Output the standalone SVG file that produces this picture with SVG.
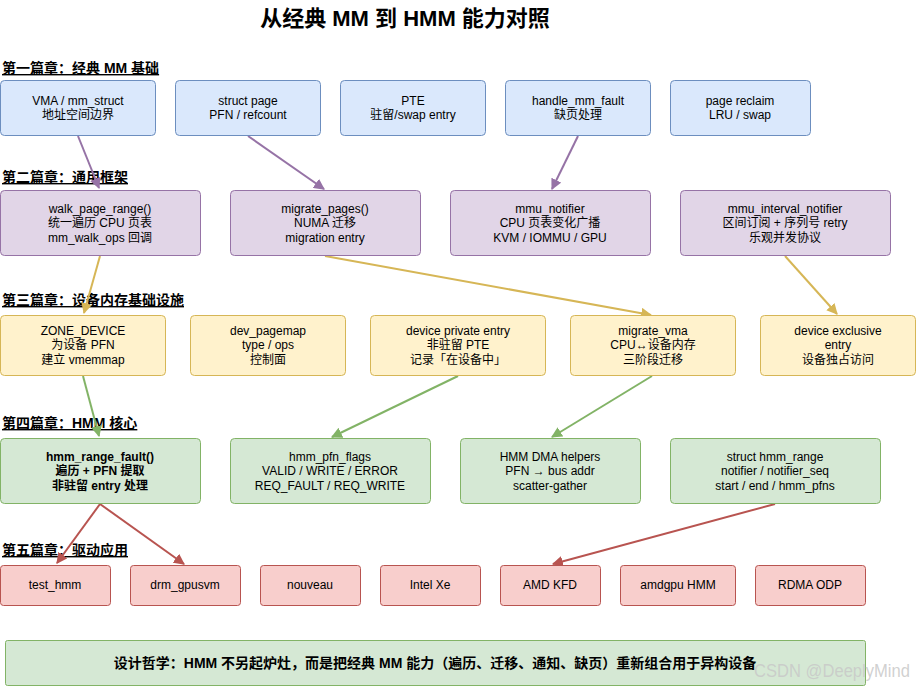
<svg xmlns="http://www.w3.org/2000/svg" width="916" height="686" viewBox="0 0 916 686">
<style>
text{font-family:"Liberation Sans","Noto Sans CJK SC",sans-serif;fill:#000}
.t{font-size:22px;font-weight:bold;text-anchor:middle}
.sec{font-size:14px;font-weight:bold;text-decoration:underline}
.n{font-size:12px;text-anchor:middle}
.b{font-weight:bold}
.blue{fill:#dae8fc;stroke:#6c8ebf}
.pur{fill:#e1d5e7;stroke:#9673a6}
.yel{fill:#fff2cc;stroke:#d6b656}
.grn{fill:#d5e8d4;stroke:#82b366}
.red{fill:#f8cecc;stroke:#b85450}
rect{stroke-width:1}
.e{fill:none;stroke-width:2}
.ep{stroke:#9673a6}.ey{stroke:#d6b656}.eg{stroke:#82b366}.er{stroke:#b85450}
.foot{font-size:14px;font-weight:bold;text-anchor:middle}
.wm{font-size:18px;fill:#c8c8c8;fill-opacity:0.85}
</style>
<defs>
<marker id="mp" viewBox="0 0 10 10" refX="9" refY="5" markerWidth="5.5" markerHeight="5.5" orient="auto"><path d="M0,0L10,5L0,10z" fill="#9673a6"/></marker>
<marker id="my" viewBox="0 0 10 10" refX="9" refY="5" markerWidth="5.5" markerHeight="5.5" orient="auto"><path d="M0,0L10,5L0,10z" fill="#d6b656"/></marker>
<marker id="mg" viewBox="0 0 10 10" refX="9" refY="5" markerWidth="5.5" markerHeight="5.5" orient="auto"><path d="M0,0L10,5L0,10z" fill="#82b366"/></marker>
<marker id="mr" viewBox="0 0 10 10" refX="9" refY="5" markerWidth="5.5" markerHeight="5.5" orient="auto"><path d="M0,0L10,5L0,10z" fill="#b85450"/></marker>
</defs>
<rect width="916" height="686" fill="#fff"/>
<text class="t" x="405" y="26">从经典 MM 到 HMM 能力对照</text>

<text class="sec" x="2" y="73">第一篇章：经典 MM 基础</text>
<text class="sec" x="2" y="182">第二篇章：通用框架</text>
<text class="sec" x="2" y="305">第三篇章：设备内存基础设施</text>
<text class="sec" x="2" y="428">第四篇章：HMM 核心</text>
<text class="sec" x="2" y="555">第五篇章：驱动应用</text>

<g id="connectors">
<line class="e ep" x1="78" y1="136" x2="99" y2="188" marker-end="url(#mp)"/>
<line class="e ep" x1="248" y1="136" x2="324" y2="189" marker-end="url(#mp)"/>
<line class="e ep" x1="578" y1="136" x2="552" y2="189" marker-end="url(#mp)"/>
<line class="e ey" x1="100" y1="256" x2="84" y2="313" marker-end="url(#my)"/>
<line class="e ey" x1="325" y1="256" x2="651" y2="315" marker-end="url(#my)"/>
<line class="e ey" x1="785" y1="256" x2="837" y2="314" marker-end="url(#my)"/>
<line class="e eg" x1="83" y1="376" x2="99" y2="436" marker-end="url(#mg)"/>
<line class="e eg" x1="458" y1="376" x2="332" y2="437" marker-end="url(#mg)"/>
<line class="e eg" x1="652" y1="376" x2="552" y2="437" marker-end="url(#mg)"/>
<line class="e er" x1="100" y1="504" x2="57" y2="563" marker-end="url(#mr)"/>
<line class="e er" x1="100" y1="504" x2="184" y2="564" marker-end="url(#mr)"/>
<line class="e er" x1="775" y1="504" x2="553" y2="564" marker-end="url(#mr)"/>
</g>

<g id="vma"><rect class="blue" x="0.5" y="80.5" width="155" height="55" rx="4"/><text class="n" x="78" y="105">VMA / mm_struct</text><text class="n" x="78" y="119">地址空间边界</text></g>
<g id="structpage"><rect class="blue" x="175.5" y="80.5" width="145" height="55" rx="4"/><text class="n" x="248" y="105">struct page</text><text class="n" x="248" y="119">PFN / refcount</text></g>
<g id="pte"><rect class="blue" x="340.5" y="80.5" width="145" height="55" rx="4"/><text class="n" x="413" y="105">PTE</text><text class="n" x="413" y="119">驻留/swap entry</text></g>
<g id="handle"><rect class="blue" x="505.5" y="80.5" width="145" height="55" rx="4"/><text class="n" x="578" y="105">handle_mm_fault</text><text class="n" x="578" y="119">缺页处理</text></g>
<g id="reclaim"><rect class="blue" x="670.5" y="80.5" width="140" height="55" rx="4"/><text class="n" x="740" y="105">page reclaim</text><text class="n" x="740" y="119">LRU / swap</text></g>

<g id="walk"><rect class="pur" x="0.5" y="190.5" width="200" height="65" rx="4"/><text class="n" x="100" y="213">walk_page_range()</text><text class="n" x="100" y="227">统一遍历 CPU 页表</text><text class="n" x="100" y="242">mm_walk_ops 回调</text></g>
<g id="migratepages"><rect class="pur" x="230.5" y="190.5" width="190" height="65" rx="4"/><text class="n" x="325" y="213">migrate_pages()</text><text class="n" x="325" y="227">NUMA 迁移</text><text class="n" x="325" y="242">migration entry</text></g>
<g id="mmunotifier"><rect class="pur" x="450.5" y="190.5" width="200" height="65" rx="4"/><text class="n" x="550" y="213">mmu_notifier</text><text class="n" x="550" y="227">CPU 页表变化广播</text><text class="n" x="550" y="242">KVM / IOMMU / GPU</text></g>
<g id="mmuinterval"><rect class="pur" x="680.5" y="190.5" width="210" height="65" rx="4"/><text class="n" x="785" y="213">mmu_interval_notifier</text><text class="n" x="785" y="227">区间订阅 + 序列号 retry</text><text class="n" x="785" y="242">乐观并发协议</text></g>

<g id="zonedevice"><rect class="yel" x="0.5" y="315.5" width="165" height="60" rx="4"/><text class="n" x="83" y="335">ZONE_DEVICE</text><text class="n" x="83" y="349">为设备 PFN</text><text class="n" x="83" y="364">建立 vmemmap</text></g>
<g id="devpagemap"><rect class="yel" x="190.5" y="315.5" width="155" height="60" rx="4"/><text class="n" x="268" y="335">dev_pagemap</text><text class="n" x="268" y="349">type / ops</text><text class="n" x="268" y="364">控制面</text></g>
<g id="devprivate"><rect class="yel" x="370.5" y="315.5" width="175" height="60" rx="4"/><text class="n" x="458" y="335">device private entry</text><text class="n" x="458" y="349">非驻留 PTE</text><text class="n" x="458" y="364">记录「在设备中」</text></g>
<g id="migratevma"><rect class="yel" x="570.5" y="315.5" width="165" height="60" rx="4"/><text class="n" x="653" y="335">migrate_vma</text><text class="n" x="653" y="349">CPU↔设备内存</text><text class="n" x="653" y="364">三阶段迁移</text></g>
<g id="devexclusive"><rect class="yel" x="760.5" y="315.5" width="155" height="60" rx="4"/><text class="n" x="838" y="335">device exclusive</text><text class="n" x="838" y="349">entry</text><text class="n" x="838" y="364">设备独占访问</text></g>

<g id="hmmrangefault"><rect class="grn" x="0.5" y="438.5" width="200" height="65" rx="4"/><text class="n b" x="100" y="461">hmm_range_fault()</text><text class="n b" x="100" y="475">遍历 + PFN 提取</text><text class="n b" x="100" y="490">非驻留 entry 处理</text></g>
<g id="hmmpfnflags"><rect class="grn" x="230.5" y="438.5" width="200" height="65" rx="4"/><text class="n" x="330" y="461">hmm_pfn_flags</text><text class="n" x="330" y="475">VALID / WRITE / ERROR</text><text class="n" x="330" y="490">REQ_FAULT / REQ_WRITE</text></g>
<g id="hmmdma"><rect class="grn" x="460.5" y="438.5" width="180" height="65" rx="4"/><text class="n" x="550" y="461">HMM DMA helpers</text><text class="n" x="550" y="475">PFN → bus addr</text><text class="n" x="550" y="490">scatter-gather</text></g>
<g id="hmmrange"><rect class="grn" x="670.5" y="438.5" width="210" height="65" rx="4"/><text class="n" x="775" y="461">struct hmm_range</text><text class="n" x="775" y="475">notifier / notifier_seq</text><text class="n" x="775" y="490">start / end / hmm_pfns</text></g>

<g id="testhmm"><rect class="red" x="0.5" y="565.5" width="110" height="40" rx="3"/><text class="n" x="55" y="589">test_hmm</text></g>
<g id="drmgpusvm"><rect class="red" x="130.5" y="565.5" width="110" height="40" rx="3"/><text class="n" x="185" y="589">drm_gpusvm</text></g>
<g id="nouveau"><rect class="red" x="260.5" y="565.5" width="100" height="40" rx="3"/><text class="n" x="310" y="589">nouveau</text></g>
<g id="intelxe"><rect class="red" x="380.5" y="565.5" width="100" height="40" rx="3"/><text class="n" x="430" y="589">Intel Xe</text></g>
<g id="amdkfd"><rect class="red" x="500.5" y="565.5" width="100" height="40" rx="3"/><text class="n" x="550" y="589">AMD KFD</text></g>
<g id="amdgpuhmm"><rect class="red" x="620.5" y="565.5" width="115" height="40" rx="3"/><text class="n" x="678" y="589">amdgpu HMM</text></g>
<g id="rdmaodp"><rect class="red" x="755.5" y="565.5" width="110" height="40" rx="3"/><text class="n" x="810" y="589">RDMA ODP</text></g>

<g id="philosophy"><rect class="grn" x="5.5" y="640.5" width="860" height="45" rx="2"/><text class="foot" x="435" y="668">设计哲学：HMM 不另起炉灶，而是把经典 MM 能力（遍历、迁移、通知、缺页）重新组合用于异构设备</text></g>

<text class="wm" x="754" y="677" textLength="156" lengthAdjust="spacingAndGlyphs">CSDN @DeeplyMind</text>
</svg>
